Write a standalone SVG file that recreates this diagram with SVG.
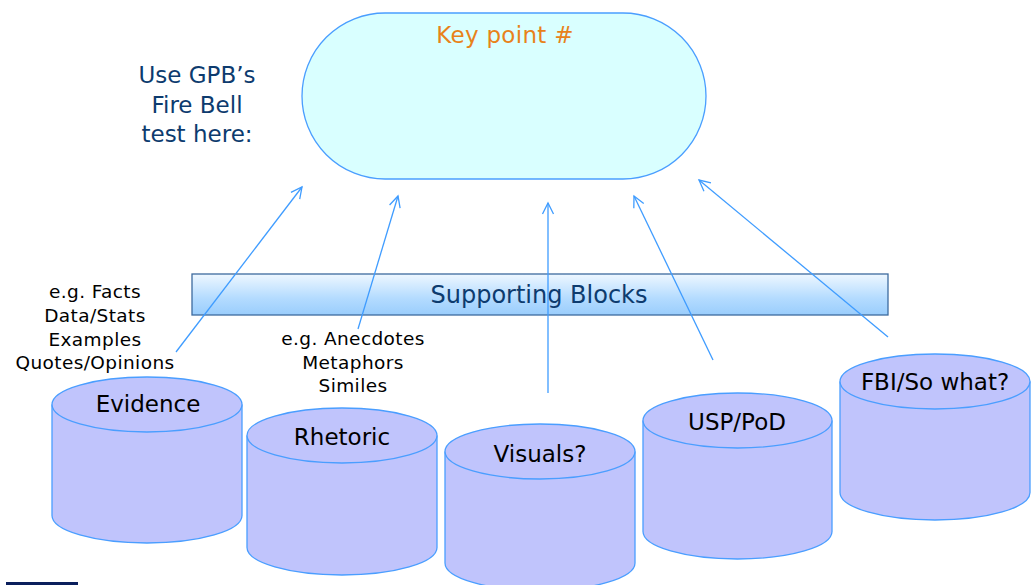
<svg xmlns="http://www.w3.org/2000/svg" width="1036" height="585" viewBox="0 0 1036 585">
<style>
text{font-family:"DejaVu Sans","Liberation Sans",sans-serif;text-anchor:middle}
.lbl{font-size:23px;fill:#000}
.small{font-size:18.5px;fill:#000;letter-spacing:0.4px}
.cyl{fill:#c0c4fc;stroke:#4a9eff;stroke-width:1.3}
.conn{stroke:#3f9cff;stroke-width:1.3;fill:none;marker-end:url(#arr)}
</style>
<defs>
<marker id="arr" markerUnits="userSpaceOnUse" markerWidth="14" markerHeight="14" refX="12" refY="7" orient="auto">
<path d="M1,1.5 L12,7 L1,12.5" fill="none" stroke="#3f9cff" stroke-width="1.3"/>
</marker>
<linearGradient id="barg" x1="0" y1="0" x2="0" y2="1">
<stop offset="0" stop-color="#eef7ff"/>
<stop offset="0.6" stop-color="#b3dbff"/>
<stop offset="1" stop-color="#9acdfc"/>
</linearGradient>
</defs>
<rect width="1036" height="585" fill="#fff"/>

<g id="keypoint">
<rect x="302" y="13" width="404" height="166" rx="83" ry="83" fill="#d9ffff" stroke="#4a9eff" stroke-width="1.3"/>
<text x="505" y="43" style="font-size:23px;fill:#e8821a;letter-spacing:0.3px">Key point #</text>
</g>

<g id="firebell">
<text x="197" y="83" style="font-size:23px;fill:#0d3b6e">Use GPB’s</text>
<text x="197" y="113" style="font-size:23px;fill:#0d3b6e">Fire Bell</text>
<text x="197" y="142" style="font-size:23px;fill:#0d3b6e">test here:</text>
</g>

<g id="supporting">
<rect x="192" y="274" width="696" height="41" fill="url(#barg)" stroke="#3d6a9e" stroke-width="1.3"/>
<text x="539" y="303" style="font-size:24px;fill:#0d3b6e">Supporting Blocks</text>
</g>

<g id="evidence-notes">
<text class="small" x="95" y="298">e.g. Facts</text>
<text class="small" x="95" y="322">Data/Stats</text>
<text class="small" x="95" y="346">Examples</text>
<text class="small" x="95" y="369">Quotes/Opinions</text>
</g>

<g id="rhetoric-notes">
<text class="small" x="353" y="345">e.g. Anecdotes</text>
<text class="small" x="353" y="369">Metaphors</text>
<text class="small" x="353" y="392">Similes</text>
</g>

<g id="evidence">
<path class="cyl" d="M52,404.5 L52,515.5 A95,27.5 0 0 0 242,515.5 L242,404.5"/>
<ellipse class="cyl" cx="147" cy="404.5" rx="95" ry="27.5"/>
<text class="lbl" x="148" y="412">Evidence</text>
</g>

<g id="rhetoric">
<path class="cyl" d="M247,435.5 L247,547.5 A95,27.5 0 0 0 437,547.5 L437,435.5"/>
<ellipse class="cyl" cx="342" cy="435.5" rx="95" ry="27.5"/>
<text class="lbl" x="342" y="445">Rhetoric</text>
</g>

<g id="visuals">
<path class="cyl" d="M445,451.5 L445,563 A95,27.5 0 0 0 635,563 L635,451.5"/>
<ellipse class="cyl" cx="540" cy="451.5" rx="95" ry="27.5"/>
<text class="lbl" x="540" y="462">Visuals?</text>
</g>

<g id="usp">
<path class="cyl" d="M643,420.5 L643,531.5 A94.5,27.5 0 0 0 832,531.5 L832,420.5"/>
<ellipse class="cyl" cx="737.5" cy="420.5" rx="94.5" ry="27.5"/>
<text class="lbl" x="737" y="430">USP/PoD</text>
</g>

<g id="fbi">
<path class="cyl" d="M840,381.5 L840,492.5 A95,27.5 0 0 0 1030,492.5 L1030,381.5"/>
<ellipse class="cyl" cx="935" cy="381.5" rx="95" ry="27.5"/>
<text class="lbl" x="935" y="390">FBI/So what?</text>
</g>

<g id="connectors">
<line class="conn" x1="176" y1="352" x2="302" y2="187"/>
<line class="conn" x1="358" y1="329" x2="398" y2="196"/>
<line class="conn" x1="548" y1="393" x2="548" y2="203"/>
<line class="conn" x1="713" y1="360" x2="634" y2="196"/>
<line class="conn" x1="888" y1="337" x2="699" y2="180"/>
</g>

<rect id="footer-bar" x="6" y="582" width="72" height="3" fill="#0a1f5c"/>
</svg>
